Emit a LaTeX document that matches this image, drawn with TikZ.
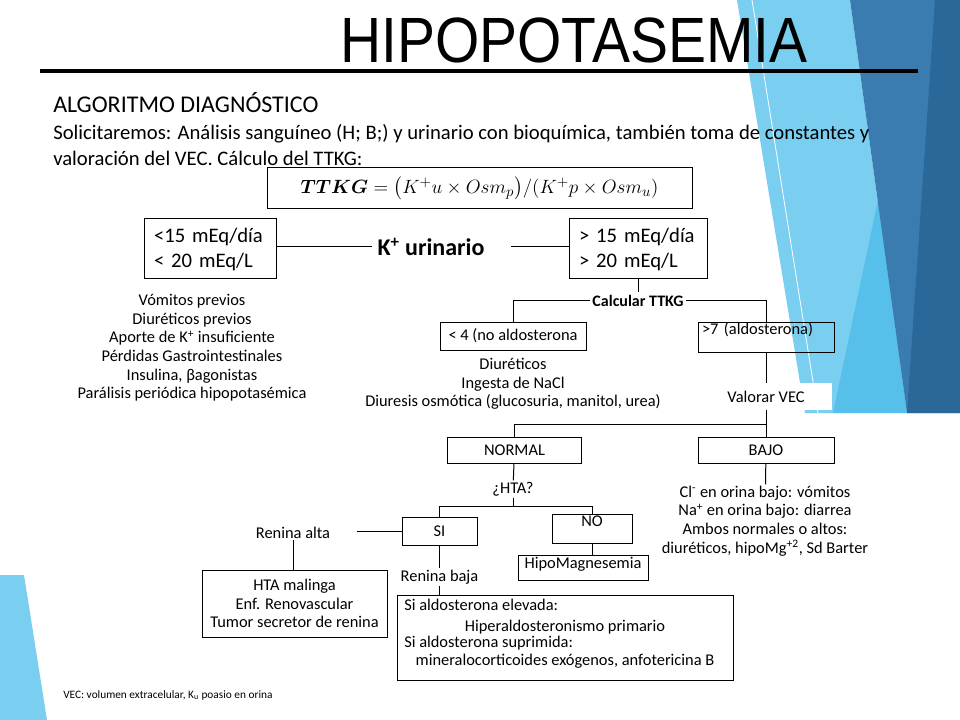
\documentclass[tikz,border=0pt]{standalone}
\usepackage{amsmath}
\usepackage{graphicx}
\usepackage{fontspec}
\setmainfont{Carlito}
\newfontfamily\titlefont{Liberation Sans}
\usetikzlibrary{positioning, calc}
\definecolor{skyB}{RGB}{122,206,240}
\definecolor{cyanB}{RGB}{86,192,234}
\definecolor{steelB}{RGB}{58,124,176}
\definecolor{deepB}{RGB}{42,104,154}
\tikzset{
  algobox/.style={draw, line width=0.75pt, inner sep=0pt},
  algotxt/.style={font=\fontsize{12.3}{14}\selectfont, align=center, inner sep=1pt},
  bigtxt/.style={font=\fontsize{15.5}{18.75}\selectfont, align=left},
  algolink/.style={line width=0.75pt},
  aldoline/.style={algotxt, inner sep=0pt, text height=7pt, text depth=2pt},
}

\begin{document}
\begin{tikzpicture}[x=0.75pt, y=-0.75pt]
\useasboundingbox (0,0) rectangle (960,720);
% background
\fill[white] (0,0) rectangle (960,720);
\fill[skyB] (737,0) -- (850,0) -- (907,413) -- (805,413) -- cycle;
\fill[cyanB] (878,200) -- (907,413) -- (833,413) -- cycle;
\fill[steelB] (850,0) -- (960,0) -- (960,413) -- (907,413) -- cycle;
\fill[deepB] (935,0) -- (960,0) -- (960,413) -- (907,413) -- cycle;
\draw[white, line width=0.6pt] (752,0) -- (818,413);
\fill[skyB] (0,575) -- (24,575) -- (47,720) -- (0,720) -- cycle;

% title
\node[font=\titlefont\fontsize{48}{48}\selectfont, inner sep=0pt] (title) at (574,40) {\scalebox{0.89}[1]{HIPOPOTASEMIA}};
\draw[line width=3pt] (40,71) -- (918,71);

\node[font=\fontsize{18}{20}\selectfont, anchor=base west, inner sep=0pt] (alg) at (53,113) {ALGORITMO DIAGNÓSTICO};
\node[bigtxt, anchor=base west, inner sep=0pt] (sol) at (53,140) {Solicitaremos: Análisis sanguíneo (H; B;) y urinario con bioquímica, también toma de constantes y};
\node[bigtxt, anchor=base west, inner sep=0pt] (val) at (53,166) {valoración del VEC. Cálculo del TTKG:};

\node[algobox, minimum width=318.75pt, minimum height=30.75pt, font=\fontsize{15}{18}\selectfont] (ttkg) at (479.5,188.5)
  {$\boldsymbol{TTKG} = \bigl(K^{+}u \times Osm_{p}\bigr)/(K^{+}p \times Osm_{u})$};

% K+ urinario
\node[algobox, bigtxt, text width=84pt, inner xsep=7.5pt, minimum height=45pt] (kbajo) at (210,249) {<15 mEq/día\\< 20 mEq/L};
\node[font=\bfseries\fontsize{18}{20}\selectfont, inner xsep=4pt] (kur) at (431,247) {K\textsuperscript{+} urinario};
\node[algobox, bigtxt, text width=88.5pt, inner xsep=7.5pt, minimum height=45pt] (kalto) at (638,249) {> 15 mEq/día\\> 20 mEq/L};
\draw[algolink] (kbajo.east |- kur.west) -- (kur.west);
\draw[algolink, shorten <=16pt] (kur.east) -- (kur.east -| kalto.west);

\node[algotxt] (causas) at (192,348) {Vómitos previos\\Diuréticos previos\\Aporte de K\textsuperscript{+} insuficiente\\Pérdidas Gastrointestinales\\Insulina, βagonistas\\Parálisis periódica hipopotasémica};

% TTKG
\node[font=\bfseries\fontsize{12}{14}\selectfont, inner sep=2pt] (calc) at (638,301) {Calcular TTKG};
\draw[algolink] (kalto) -- (calc);
\node[algobox, algotxt, minimum width=109.5pt, minimum height=21pt] (nald) at (513,336) {< 4 (no aldosterona};
\node[algobox, algotxt, text width=96pt, align=left, inner xsep=3pt, inner ysep=1.5pt, text height=8pt, text depth=11.5pt] (ald) at (766,337) {>7 (aldosterona)};
\draw[algolink] (calc.west) -| (nald.north);
\draw[algolink] (calc.east) -| (ald.north);
\node[algotxt] (diur) at (513,384) {Diuréticos\\Ingesta de NaCl\\Diuresis osmótica (glucosuria, manitol, urea)};

% VEC
\node[algotxt, fill=white, minimum width=99pt, minimum height=20.25pt] (vec) at (766,396.5) {Valorar VEC};
\draw[algolink] (ald) -- (vec);
\coordinate (vecj) at (766,424);
\node[algobox, algotxt, minimum width=101pt, minimum height=19.5pt] (normal) at (514.5,450) {NORMAL};
\node[algobox, algotxt, minimum width=102pt, minimum height=19.5pt] (bajo) at (766,450) {BAJO};
\draw[algolink] (vec) -- (vecj) -| (normal.north);
\draw[algolink] (vecj) -- (bajo);
\node[algotxt] (bajotxt) at (765,521) {Cl\textsuperscript{-} en orina bajo: vómitos\\Na\textsuperscript{+} en orina bajo: diarrea\\Ambos normales o altos:\\diuréticos, hipoMg\textsuperscript{+2}, Sd Barter};
\draw[algolink] (bajo) -- (bajotxt);

% HTA
\node[algotxt] (hta) at (513,489) {¿HTA?};
\draw[algolink] (normal) -- (hta);
\coordinate (htaj) at (513,506);
\node[algobox, algotxt, minimum width=56.25pt, minimum height=21pt] (si) at (439.5,531) {SI};
\node[algobox, algotxt, minimum width=60pt, inner ysep=1.5pt, text height=8pt, text depth=10.75pt] (no) at (592,528.5) {NO};
\draw[algolink] (hta) -- (htaj);
\draw[algolink] (htaj) -| (si.north);
\draw[algolink] (htaj) -| (no.north);
\node[algobox, algotxt, minimum width=97.5pt, inner ysep=1.75pt, text height=8pt, text depth=7.25pt] (hipomg) at (583,567.5) {HipoMagnesemia};
\draw[algolink] (no.south) -- (no.south |- hipomg.north);

\node[algotxt, inner xsep=20pt] (renalta) at (293,533) {Renina alta};
\draw[algolink] (si.west) -- (si.west -| renalta.east);
\node[algobox, algotxt, minimum width=138.75pt, minimum height=50.25pt] (htamal) at (294.5,603.5) {HTA malinga\\Enf. Renovascular\\Tumor secretor de renina};
\draw[algolink] (renalta.south) -- (renalta.south |- htamal.north);

\node[algotxt] (renbaja) at (439.5,577) {Renina baja};
\draw[algolink] (si) -- (renbaja);
\node[algobox, minimum width=252pt, minimum height=63.75pt] (aldo) at (565,637.5) {};
\draw[algolink] (renbaja.south) -- (renbaja.south |- aldo.north);
\node[aldoline, anchor=west] (aldoA) at (404,607) {Si aldosterona elevada:};
\node[aldoline] (aldoB) at (565,628) {Hiperaldosteronismo primario};
\node[aldoline, anchor=west] (aldoC) at (404,644) {Si aldosterona suprimida:};
\node[aldoline] (aldoD) at (565,662) {mineralocorticoides exógenos, anfotericina B};

\node[font=\fontsize{8.5}{10}\selectfont, anchor=west, inner sep=0pt] (nota) at (63,695) {VEC: volumen extracelular, K\textsubscript{u} poasio en orina};
\end{tikzpicture}
\end{document}
